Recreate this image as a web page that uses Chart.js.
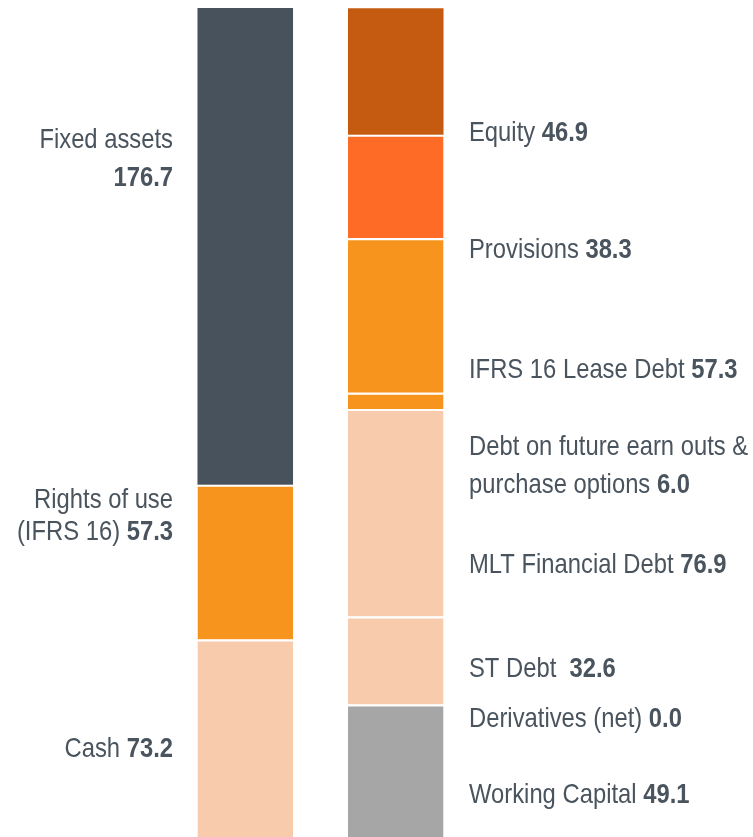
<!DOCTYPE html>
<html>
<head>
<meta charset="utf-8">
<script src="https://cdn.jsdelivr.net/npm/chart.js@4.4.1/dist/chart.umd.min.js"></script>
<style>
  html, body { margin: 0; padding: 0; background: #fff; }
  canvas { display: block; }
</style>
</head>
<body>
<canvas id="chart" width="753" height="837"></canvas>
<script>
// 2本の棒（資産 / 負債・資本）
const bars = ["Assets", "Liabilities"];

// 左の棒：下から順
const assetNames = ["Cash", "Rights of use (IFRS 16)", "Fixed assets"];
const assetValues = [73.2, 57.3, 176.7];
const assetColors = ["#f8cbad", "#f7941d", "#48525d"];

// 右の棒：下から順
const liabNames = ["Working Capital", "Derivatives (net)", "ST Debt", "MLT Financial Debt",
  "Debt on future earn outs & purchase options", "IFRS 16 Lease Debt", "Provisions", "Equity"];
const liabValues = [49.1, 0.0, 32.6, 76.9, 6.0, 57.3, 38.3, 46.9];
const liabColors = ["#a6a6a6", "#a6a6a6", "#f8cbad", "#f8cbad", "#f7941d", "#f7941d", "#fd6b27", "#c55a11"];

// ラベル（テキスト行・太字の数値）
const assetLabels = [
  [["Cash ", "73.2"]],
  [["Rights of use", ""], ["(IFRS 16) ", "57.3"]],
  [["Fixed assets", ""], ["", "176.7"]]
];
const liabLabels = [
  [["Working Capital ", "49.1"]],
  [["Derivatives (net) ", "0.0"]],
  [["ST Debt  ", "32.6"]],
  [["MLT Financial Debt ", "76.9"]],
  [["Debt on future earn outs &", ""], ["purchase options ", "6.0"]],
  [["IFRS 16 Lease Debt ", "57.3"]],
  [["Provisions ", "38.3"]],
  [["Equity ", "46.9"]]
];

const yMax = 307.2;

const datasets = [];
assetValues.forEach((v, i) => {
  datasets.push({
    label: assetNames[i],
    data: [v, null],
    backgroundColor: assetColors[i],
    borderColor: "#ffffff",
    borderWidth: { top: i === assetValues.length - 1 ? 0 : 2, left: 0, right: 0, bottom: 0 },
    borderSkipped: false
  });
});
liabValues.forEach((v, i) => {
  datasets.push({
    label: liabNames[i],
    data: [null, v],
    backgroundColor: liabColors[i],
    borderColor: "#ffffff",
    borderWidth: { top: i === liabValues.length - 1 ? 0 : 2, left: 0, right: 0, bottom: 0 },
    borderSkipped: false
  });
});

// テキストのベースライン位置（px）
// Narrow系フォントが無いので横方向に縮めて描く
const labelLayout = {
  font: "'Liberation Sans Narrow', 'Arial Narrow', 'Liberation Sans', Arial, sans-serif",
  size: 28,
  squeeze: 0.85,
  color: "#4a545e",
  leftX: 173,
  rightX: 469,
  assetBaselines: [[757], [508, 540], [148, 186]],
  liabBaselines: [[803], [727], [677], [573], [455, 493], [378], [258], [141]]
};

const labelPlugin = {
  id: "sideLabels",
  afterDraw(chart) {
    const ctx = chart.ctx;
    const L = labelLayout;
    const sx = L.squeeze;
    const reg = `${L.size}px ${L.font}`;
    const bold = `bold ${L.size}px ${L.font}`;
    ctx.save();
    ctx.scale(sx, 1);
    ctx.fillStyle = L.color;
    ctx.textBaseline = "alphabetic";

    // 左側：右揃え
    assetLabels.forEach((lines, i) => {
      lines.forEach((ln, j) => {
        const y = L.assetBaselines[i][j];
        const x = L.leftX / sx;
        ctx.font = bold;
        const wb = ctx.measureText(ln[1]).width;
        ctx.textAlign = "right";
        ctx.fillText(ln[1], x, y);
        ctx.font = reg;
        ctx.fillText(ln[0], x - wb, y);
      });
    });

    // 右側：左揃え
    liabLabels.forEach((lines, i) => {
      lines.forEach((ln, j) => {
        const y = L.liabBaselines[i][j];
        const x = L.rightX / sx;
        ctx.textAlign = "left";
        ctx.font = reg;
        const wr = ctx.measureText(ln[0]).width;
        ctx.fillText(ln[0], x, y);
        ctx.font = bold;
        ctx.fillText(ln[1], x + wr, y);
      });
    });
    ctx.restore();
  }
};

new Chart(document.getElementById("chart"), {
  type: "bar",
  data: { labels: bars, datasets },
  options: {
    responsive: false,
    animation: false,
    layout: { padding: { left: 170, right: 282, top: 8, bottom: 0 } },
    datasets: { bar: { barPercentage: 1, categoryPercentage: 0.635 } },
    plugins: { legend: { display: false }, tooltip: { enabled: false } },
    scales: {
      x: { stacked: true, display: false },
      y: { stacked: true, display: false, min: 0, max: yMax }
    }
  },
  plugins: [labelPlugin]
});
</script>
</body>
</html>
